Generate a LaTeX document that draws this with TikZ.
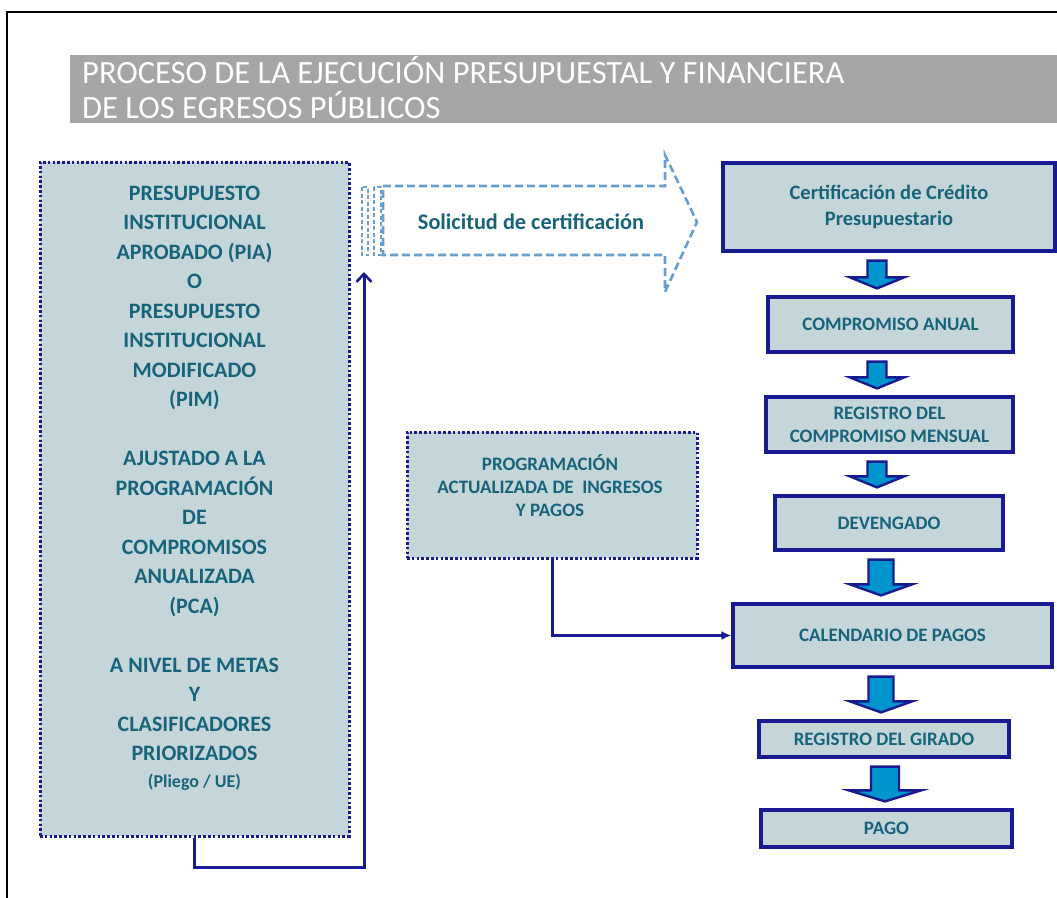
\documentclass[tikz,border=0pt]{standalone}
\usepackage{fontspec}
\setmainfont{Carlito}
\usetikzlibrary{arrows.meta,calc}

\definecolor{navyline}{RGB}{25,25,145}
\definecolor{boxfill}{RGB}{197,214,219}
\definecolor{tealtext}{RGB}{23,100,122}
\definecolor{arrowblue}{RGB}{0,150,205}
\definecolor{titlegray}{RGB}{166,166,166}
\definecolor{dashblue}{RGB}{105,158,210}

\tikzset{
    flowbox/.style={draw=navyline, line width=3.2pt, fill=boxfill, text=tealtext,
        font=\bfseries\fontsize{19}{23}\selectfont, align=center, inner sep=0pt},
    dotbox/.style={draw=navyline, line width=3pt, dash pattern=on 2.6pt off 2.2pt,
        fill=boxfill, inner sep=0pt},
    boxtext/.style={text=tealtext, align=center, inner sep=0pt},
    link/.style={draw=navyline, line width=3pt},
    blockarrow/.style={draw=navyline, line width=2.4pt, fill=arrowblue, line join=miter},
}

% block arrow between two boxes: from, to, x centre, shaft half width, head half width
\newcommand{\flowarrow}[5]{%
    \draw[blockarrow] let \p1=(#1.south), \p2=(#2.north) in
        ({#3-#4},\y1-8pt) -- ({#3+#4},\y1-8pt) -- ({#3+#4},\y2+18pt)
        -- ({#3+#5},\y2+18pt) -- (#3,\y2+7pt) -- ({#3-#5},\y2+18pt)
        -- ({#3-#4},\y2+18pt) -- cycle;
}

\begin{document}
\begin{tikzpicture}[x=1pt, y=-1pt, >=latex]
    \useasboundingbox (0,0) rectangle (1057,897);
    \clip (0,0) rectangle (1057,897);
    % ==== FRAME AND TITLE ====
    \draw[line width=1.8pt] (7,1000) -- (7,12) -- (1100,12);
    \fill[titlegray] (70,55) rectangle (1100,123);
    \node[anchor=north west, align=left, text=white, inner sep=0pt,
        font=\fontsize{32.5}{35}\selectfont] (title) at (82,56)
        {PROCESO DE LA EJECUCIÓN PRESUPUESTAL Y FINANCIERA\\DE LOS EGRESOS PÚBLICOS};

    % ==== LEFT BOX ====
    \node[dotbox, minimum width=309, minimum height=674] (pia) at (194.5,499) {};
    \node[boxtext, font=\bfseries\fontsize{22}{29.5}\selectfont] (piatext) at (194.5,488)
        {PRESUPUESTO\\INSTITUCIONAL\\APROBADO (PIA)\\O\\PRESUPUESTO\\INSTITUCIONAL\\
         MODIFICADO\\(PIM)\\[29.5pt]AJUSTADO A LA\\PROGRAMACIÓN\\DE\\COMPROMISOS\\
         ANUALIZADA\\(PCA)\\[29.5pt]A NIVEL DE METAS\\Y\\CLASIFICADORES\\PRIORIZADOS\\[-3pt]
         {\fontsize{18}{20}\selectfont (Pliego / UE)}};

    % ==== SOLICITUD ARROW ====
    \draw[dashblue, line width=2.6pt, dash pattern=on 8pt off 4pt, line join=miter]
        (383,186) -- (665,186) -- (665,155) -- (697,222) -- (665,292) -- (665,255)
        -- (383,255) -- cycle;
    \draw[dashblue, line width=2.2pt, dash pattern=on 4pt off 2.5pt] (362,187) rectangle (368,255);
    \draw[dashblue, line width=2.2pt, dash pattern=on 4pt off 2.5pt] (374,187) rectangle (381,255);
    \node[boxtext, font=\bfseries\fontsize{22.3}{25}\selectfont] (solicitud) at (531,222)
        {Solicitud de certificación};
    \coordinate (solbase) at (364,272);

    % ==== RIGHT COLUMN ====
    \node[flowbox, minimum width=332, minimum height=88, font=\bfseries\fontsize{20.5}{26}\selectfont]
        (cert) at (889,207) {Certificación de Crédito\\Presupuestario};
    \node[flowbox, minimum width=245, minimum height=55] (comp) at (890.5,324.5)
        {COMPROMISO ANUAL};
    \node[flowbox, minimum width=247, minimum height=55] (reg) at (889.5,424.5)
        {REGISTRO DEL\\COMPROMISO MENSUAL};
    \node[flowbox, minimum width=228, minimum height=54] (dev) at (889,523)
        {DEVENGADO};
    \node[flowbox, minimum width=319, minimum height=63] (cal) at (892.5,635.5)
        {CALENDARIO DE PAGOS};
    \node[flowbox, minimum width=250, minimum height=36] (gir) at (884,739)
        {REGISTRO DEL GIRADO};
    \node[flowbox, minimum width=251, minimum height=37] (pago) at (886.5,828.5)
        {PAGO};

    \flowarrow{cert}{comp}{877}{9.5}{27}
    \flowarrow{comp}{reg}{877}{9.5}{27}
    \flowarrow{reg}{dev}{877}{9.5}{27}
    \flowarrow{dev}{cal}{881}{12.5}{31}
    \flowarrow{cal}{gir}{881}{12.5}{31}
    \flowarrow{gir}{pago}{885}{14}{36}

    % ==== PROGRAMACION BOX ====
    \node[dotbox, minimum width=290, minimum height=126] (prog) at (552,495) {};
    \node[boxtext, font=\bfseries\fontsize{19}{23}\selectfont] (progtext) at (550,486)
        {PROGRAMACIÓN\\ACTUALIZADA DE \ INGRESOS\\Y PAGOS};

    % ==== CONNECTORS ====
    \draw[link, -{Straight Barb[length=8pt, width=15pt, line width=2.6pt]}]
        (pia.south) -- ++(0,30) -| (solbase);
    \draw[link, -{Latex[length=10pt, width=9pt]}] (prog.south) |- (cal.west);
\end{tikzpicture}
\end{document}
